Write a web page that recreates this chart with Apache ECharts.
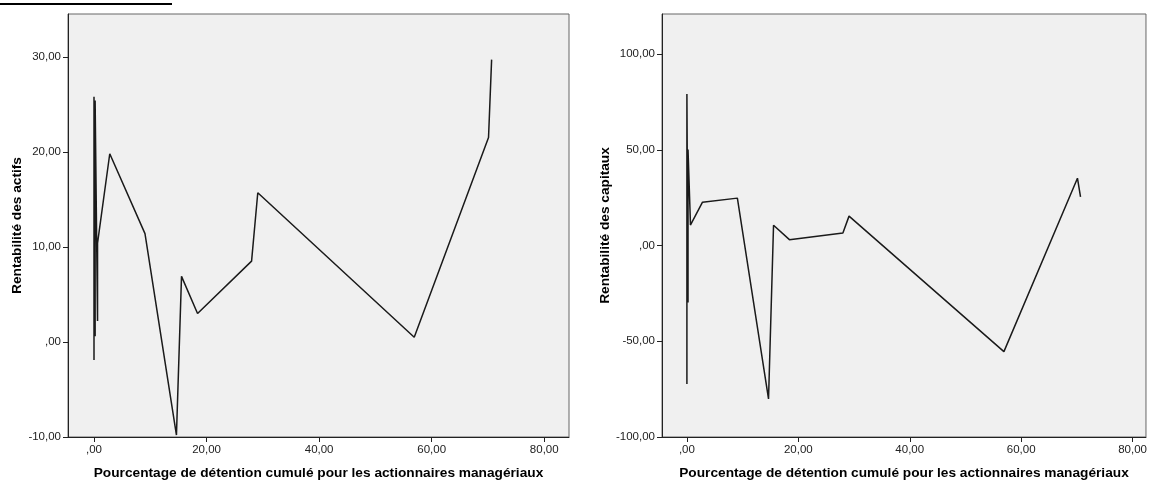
<!DOCTYPE html>
<html>
<head>
<meta charset="utf-8">
<script src="https://cdn.jsdelivr.net/npm/echarts@6/dist/echarts.min.js"></script>
<style>
  html, body { margin: 0; padding: 0; background: #ffffff; }
  #chart { width: 1150px; height: 485px; }
</style>
</head>
<body>
<div id="chart"></div>
<script>
// Cumulative managerial ownership (%) for each firm, in plotting order
const holdings = [0, 0, 0.2, 0.2, 0.63, 0.63, 2.8, 9.06, 14.65, 15.55, 18.4, 28.0, 29.1, 56.9, 70.1, 70.65];
// Return on assets for the same firms
const roa = [-1.9, 25.8, 0.6, 25.4, 2.2, 10.4, 19.8, 11.4, -9.8, 6.9, 3.0, 8.5, 15.7, 0.5, 21.5, 29.7];
// Return on equity for the same firms
const roe = [-72.3, 79.2, -29.7, 50.2, 12.0, 10.7, 22.7, 24.8, -80.1, 10.6, 3.1, 6.6, 15.4, -55.4, 35.2, 25.5];

const xTicks = [0, 20, 40, 60, 80];
const roaTicks = [-10, 0, 10, 20, 30];
const roeTicks = [-100, -50, 0, 50, 100];

const xTitle = 'Pourcentage de détention cumulé pour les actionnaires managériaux';
const roaTitle = 'Rentabilité des actifs';
const roeTitle = 'Rentabilité des capitaux';

const pairs = (xs, ys) => xs.map((x, i) => [x, ys[i]]);

// Decimal comma, zero written as ",00"
const fmt = v => (v === 0 ? ',00' : v.toFixed(2).replace('.', ','));

const labelStyle = { color: '#222', fontSize: 11.5, fontFamily: 'Liberation Sans, Arial, sans-serif' };
const titleStyle = { color: '#000', fontSize: 13.7, fontWeight: 'bold', fontFamily: 'Liberation Sans, Arial, sans-serif' };

function xAxisFor(gridIndex, min, max) {
  return {
    type: 'value', gridIndex, min, max,
    name: xTitle, nameLocation: 'middle', nameGap: 29, nameTextStyle: titleStyle,
    splitLine: { show: false },
    axisLine: { show: true, onZero: false, lineStyle: { color: '#222', width: 1 } },
    axisTick: { show: true, length: 5, customValues: xTicks, lineStyle: { color: '#222' } },
    axisLabel: Object.assign({ customValues: xTicks, formatter: fmt, margin: 7 }, labelStyle)
  };
}

function yAxisFor(gridIndex, min, max, ticks, title, gap) {
  return {
    type: 'value', gridIndex, min, max,
    name: title, nameLocation: 'middle', nameGap: gap, nameTextStyle: titleStyle,
    splitLine: { show: false },
    axisLine: { show: true, onZero: false, lineStyle: { color: '#222', width: 1 } },
    axisTick: { show: true, length: 5, customValues: ticks, lineStyle: { color: '#222' } },
    axisLabel: Object.assign({ customValues: ticks, formatter: fmt, margin: 7 }, labelStyle)
  };
}

const lineStyle = { color: '#1a1a1a', width: 1.5 };

const chart = echarts.init(document.getElementById('chart'), null, { renderer: 'canvas' });
chart.setOption({
  animation: false,
  backgroundColor: '#ffffff',
  grid: [
    { left: 68, top: 14, width: 501, height: 425, show: true, backgroundColor: '#f0f0f0', borderColor: '#666', borderWidth: 1 },
    { left: 662, top: 14, width: 486, height: 425, show: true, backgroundColor: '#f0f0f0', borderColor: '#666', borderWidth: 1 }
  ],
  xAxis: [xAxisFor(0, -4.62, 84.4), xAxisFor(1, -4.47, 82.4)],
  yAxis: [
    yAxisFor(0, -10, 34.5, roaTicks, roaTitle, 41),
    yAxisFor(1, -100, 121, roeTicks, roeTitle, 45)
  ],
  graphic: [
    { type: 'line', shape: { x1: 0, y1: 4, x2: 172, y2: 4 }, style: { stroke: '#000', lineWidth: 2 } }
  ],
  series: [
    { type: 'line', xAxisIndex: 0, yAxisIndex: 0, data: pairs(holdings, roa), showSymbol: false, lineStyle, silent: true },
    { type: 'line', xAxisIndex: 1, yAxisIndex: 1, data: pairs(holdings, roe), showSymbol: false, lineStyle, silent: true }
  ]
});
</script>
</body>
</html>
